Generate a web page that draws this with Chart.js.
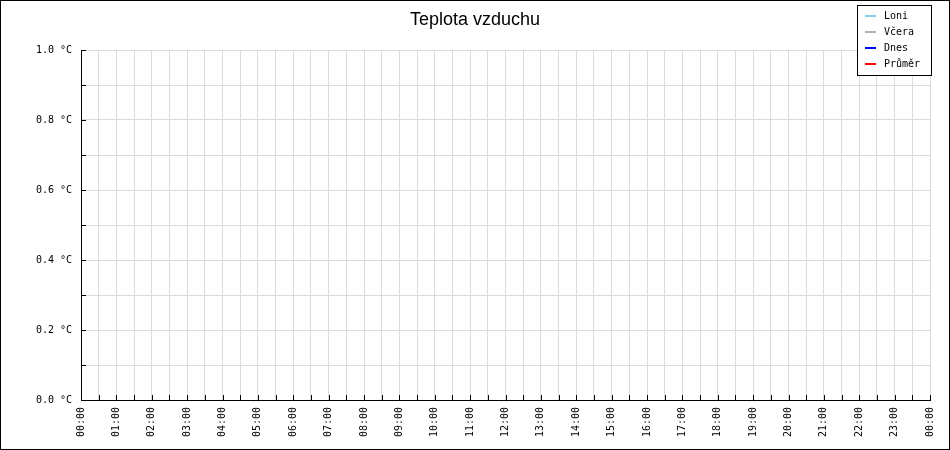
<!DOCTYPE html>
<html>
<head>
<meta charset="utf-8">
<script src="https://cdn.jsdelivr.net/npm/chart.js@4/dist/chart.umd.min.js"></script>
<style>
  html,body{margin:0;padding:0;background:#fff;}
  #wrap{width:950px;height:450px;position:relative;}
</style>
</head>
<body>
<div id="wrap"><canvas id="chartTemp" width="950" height="450"></canvas></div>
<script>
// Teplota vzduchu - denní graf (bez naměřených hodnot)

const chartTitle = 'Teplota vzduchu';
const seriesNames = ['Loni', 'Včera', 'Dnes', 'Průměr'];
const seriesColors = ['#87ceeb', '#b4b4b4', '#0000ff', '#ff0000'];
// hodnoty v grafu nejsou vidět - řady jsou prázdné
const dataLoni = [];
const dataVcera = [];
const dataDnes = [];
const dataPrumer = [];
// osa x v hodinách 0..24, popisky po hodině
const hourLabels = ['00:00','01:00','02:00','03:00','04:00','05:00','06:00','07:00','08:00','09:00','10:00','11:00',
  '12:00','13:00','14:00','15:00','16:00','17:00','18:00','19:00','20:00','21:00','22:00','23:00','00:00'];
const yMin = 0, yMax = 1, yStep = 0.1;

const monoFont = "'DejaVu Sans Mono', 'Liberation Mono', monospace";

// vnitřní značky os, rámeček, titulek a legenda
const decorPlugin = {
  id: 'decor',
  afterDraw(chart) {
    const ctx = chart.ctx, ca = chart.chartArea;
    const xs = chart.scales.x, ys = chart.scales.y;
    ctx.save();
    ctx.strokeStyle = '#000'; ctx.lineWidth = 1;
    ctx.beginPath();
    xs.ticks.forEach(t => { const px = Math.round(xs.getPixelForValue(t.value)) + 0.5; ctx.moveTo(px, ca.bottom); ctx.lineTo(px, ca.bottom - 5); });
    ys.ticks.forEach(t => { const py = Math.round(ys.getPixelForValue(t.value)) + 0.5; ctx.moveTo(ca.left, py); ctx.lineTo(ca.left + 5, py); });
    ctx.stroke();
    // rámeček kolem celého obrázku
    ctx.strokeRect(0.5, 0.5, chart.width - 1, chart.height - 1);
    // titulek
    ctx.fillStyle = '#000';
    ctx.font = "18px 'Liberation Sans', Arial, sans-serif";
    ctx.textAlign = 'center'; ctx.textBaseline = 'alphabetic';
    ctx.fillText(chartTitle, 475, 25);
    // legenda
    const lx = 857, ly = 5, lw = 74, lh = 70;
    ctx.fillStyle = '#fff'; ctx.fillRect(lx, ly, lw, lh);
    ctx.strokeRect(lx + 0.5, ly + 0.5, lw, lh);
    ctx.font = '10px ' + monoFont; ctx.textAlign = 'left'; ctx.textBaseline = 'middle';
    chart.data.datasets.forEach((ds, i) => {
      const y = 16 + i * 16;
      ctx.strokeStyle = ds.borderColor; ctx.lineWidth = 2;
      ctx.beginPath(); ctx.moveTo(865, y); ctx.lineTo(876, y); ctx.stroke();
      ctx.fillStyle = '#000'; ctx.fillText(ds.label, 884, y);
    });
    ctx.restore();
  }
};

const seriesData = [dataLoni, dataVcera, dataDnes, dataPrumer];

new Chart(document.getElementById('chartTemp'), {
  type: 'line',
  data: {
    datasets: seriesNames.map((n, i) => ({label: n, data: seriesData[i], borderColor: seriesColors[i], borderWidth: 1.5, pointRadius: 0, fill: false}))
  },
  options: {
    responsive: false, animation: false, devicePixelRatio: 1,
    layout: {padding: {left: 0, top: 50, right: 20, bottom: 0}},
    plugins: {legend: {display: false}, title: {display: false}, tooltip: {enabled: false}},
    scales: {
      x: {
        type: 'linear', min: 0, max: 24,
        ticks: {stepSize: 0.5, autoSkip: false, maxRotation: 90, minRotation: 90, padding: 7, color: '#000',
          font: {family: monoFont, size: 10},
          callback: v => Number.isInteger(v) ? hourLabels[v] : ''},
        grid: {color: '#dcdcdc', drawTicks: false},
        border: {color: '#000', width: 1},
        afterFit: s => { s.height = 50; }
      },
      y: {
        min: yMin, max: yMax,
        ticks: {stepSize: yStep, autoSkip: false, padding: 9, color: '#000',
          font: {family: monoFont, size: 10},
          callback: (v, i) => i % 2 === 0 ? v.toFixed(1) + ' °C' : ''},
        grid: {color: '#dcdcdc', drawTicks: false},
        border: {color: '#000', width: 1},
        afterFit: s => { s.width = 81; }
      }
    }
  },
  plugins: [decorPlugin]
});
</script>
</body>
</html>
